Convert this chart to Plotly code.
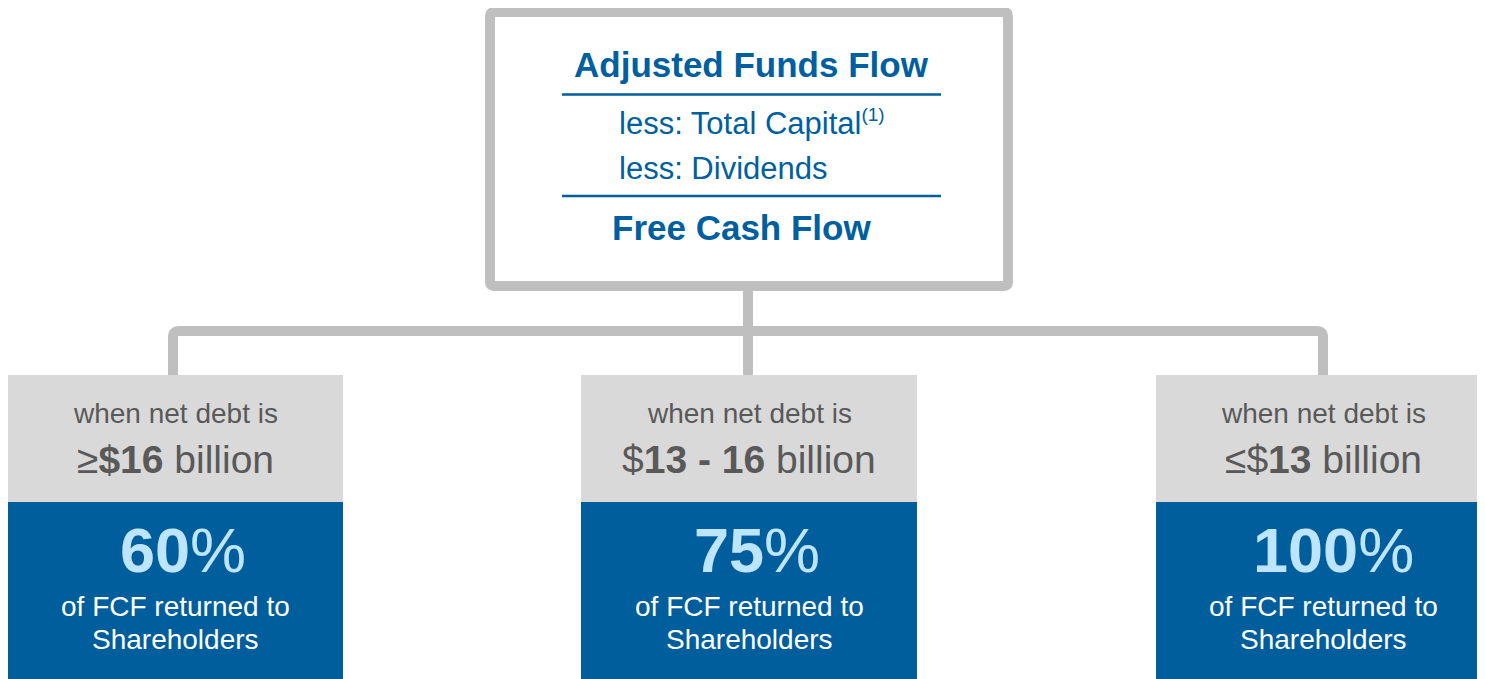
import plotly.graph_objects as go

# ---- data ----
top_lines = ["Adjusted Funds Flow", "less: Total Capital<sup><span style='font-size:19px'>(1)</span></sup>",
             "less: Dividends", "Free Cash Flow"]
debt_label = "when net debt is"
debt_thresholds = ["≥<b>$16</b> billion", "$<b>13 - 16</b> billion", "≤$<b>13</b> billion"]
fcf_share_pct = [60, 75, 100]
return_lines = ["of FCF returned to", "Shareholders"]

# ---- style / layout ----
W, H = 1485, 679
OFF = 8  # compensates the page's default body margin
FONT = "Arial, 'Liberation Sans', sans-serif"
BLUE = "#005E9C"
DARK_TXT = "#005F9E"
GREY_LINE = "#BFBFBF"
GREY_BOX = "#D9D9D9"
GREY_TXT = "#595959"
LIGHT_BLUE = "#BDE5FF"

box_left = [7, 581, 1156]
box_w = 336
text_cx = [175, 749, 1323]
pct_cx = [183, 757, 1333]

fig = go.Figure()
fig.add_trace(go.Scatter(x=[OFF, W], y=[OFF, H], mode="markers", marker=dict(opacity=0), hoverinfo="skip", showlegend=False))

shapes = []
# connectors
shapes.append(dict(type="path", path="M 173 376 V 337 Q 173 331 179 331 H 1317 Q 1323 331 1323 337 V 376",
                   line=dict(color=GREY_LINE, width=10), fillcolor="rgba(0,0,0,0)", layer="below"))
shapes.append(dict(type="line", x0=748, x1=748, y0=290, y1=376, line=dict(color=GREY_LINE, width=10), layer="below"))
# top box (rounded)
r = 4
x0, x1, y0, y1 = 490, 1008, 12, 286
shapes.append(dict(type="path",
                   path=f"M {x0+r} {y0} H {x1-r} Q {x1} {y0} {x1} {y0+r} V {y1-r} Q {x1} {y1} {x1-r} {y1} "
                        f"H {x0+r} Q {x0} {y1} {x0} {y1-r} V {y0+r} Q {x0} {y0} {x0+r} {y0} Z",
                   line=dict(color=GREY_LINE, width=10), fillcolor="white"))
# blue rule lines
for yy in [94.5, 196]:
    shapes.append(dict(type="line", x0=562, x1=941, y0=yy, y1=yy, line=dict(color=BLUE, width=2.5)))
# bottom boxes
for xl in box_left:
    shapes.append(dict(type="rect", x0=xl, x1=xl + box_w, y0=375, y1=502, fillcolor=GREY_BOX, line=dict(width=0)))
    shapes.append(dict(type="rect", x0=xl, x1=xl + box_w, y0=502, y1=700, fillcolor=BLUE, line=dict(width=0)))

ann = []
def t(x, y, text, size, color, xanchor="center"):
    ann.append(dict(x=x, y=y, xref="x", yref="y", text=text, showarrow=False, xanchor=xanchor, yanchor="middle",
                    font=dict(family=FONT, size=size, color=color)))

t(751, 64, f"<b>{top_lines[0]}</b>", 35, DARK_TXT)
t(617, 122, top_lines[1], 31, DARK_TXT, xanchor="left")
t(617, 168, top_lines[2], 31, DARK_TXT, xanchor="left")
t(741, 227, f"<b>{top_lines[3]}</b>", 35, DARK_TXT)

for i in range(3):
    t(text_cx[i], 413, debt_label, 28, GREY_TXT)
    t(text_cx[i], 459, debt_thresholds[i], 39, GREY_TXT)
    t(pct_cx[i], 550, f"<b>{fcf_share_pct[i]}</b>%", 63, LIGHT_BLUE)
    t(text_cx[i], 606, return_lines[0], 28, "white")
    t(text_cx[i], 639, return_lines[1], 28, "white")

fig.update_layout(
    width=W, height=H, margin=dict(l=0, r=0, t=0, b=0),
    paper_bgcolor="white", plot_bgcolor="white",
    xaxis=dict(range=[OFF, W + OFF], visible=False, fixedrange=True),
    yaxis=dict(range=[H + OFF, OFF], visible=False, fixedrange=True),
    shapes=shapes, annotations=ann, showlegend=False,
)
fig.write_html("out.html")
